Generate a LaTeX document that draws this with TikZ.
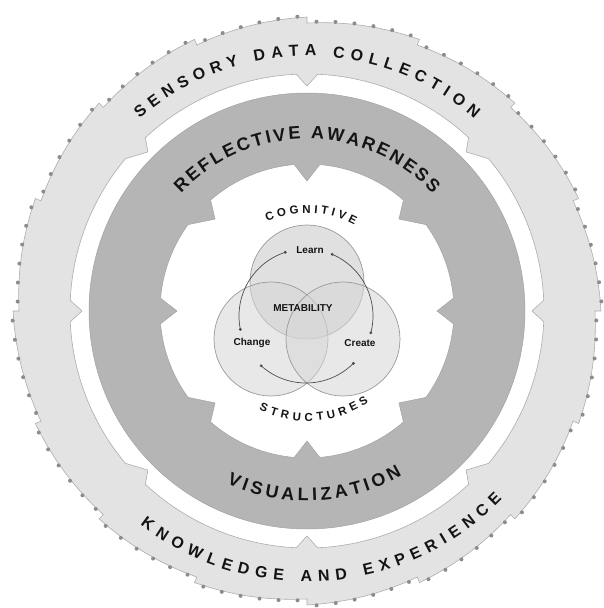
\documentclass[tikz,border=0pt]{standalone}
\usepackage{fontspec}
\setmainfont{Liberation Sans}
\usetikzlibrary{decorations.text}
\definecolor{lightring}{gray}{0.89}
\definecolor{lightedge}{gray}{0.68}
\definecolor{darkring}{gray}{0.71}
\definecolor{darkedge}{gray}{0.64}
\definecolor{dotc}{gray}{0.55}
\definecolor{inktext}{gray}{0.08}
\definecolor{venntop}{gray}{0.78}
\definecolor{vennside}{gray}{0.84}
\definecolor{vennline}{gray}{0.6}
\definecolor{arcline}{gray}{0.3}
\newcommand\fontOuter{\fontsize{16}{16}\selectfont\bfseries}
\newcommand\fontMid{\fontsize{18}{18}\selectfont\bfseries}
\newcommand\fontInner{\fontsize{11.5}{11.5}\selectfont\bfseries}
\tikzset{
  ringtext/.style={decorate, decoration={text along path, text align={fit to path}, text color=inktext}},
  vcirc/.style={circle, minimum size=114pt, inner sep=0pt, draw=vennline, line width=0.7pt, fill opacity=0.55},
  vlabel/.style={font=\fontsize{10}{10}\selectfont\bfseries, text=inktext, inner sep=1pt},
  vdot/.style={circle, fill=arcline, inner sep=0pt, minimum size=3.2pt},
  arcconn/.style={draw=arcline, line width=0.7pt}
}
\begin{document}
\begin{tikzpicture}[x=1pt,y=1pt]
\useasboundingbox (-307,-297) rectangle (296,311);

% outer light ring with sawtooth outer edge and inward teeth
\filldraw[fill=lightring, draw=lightedge, line width=0.6pt, even odd rule]
  (360:288)
  \foreach \k in {0,...,15}{ \foreach \j in {0,...,8}{ -- ({360-22.5*\k-2.8125*\j}:{288+6*\j/8}) } } -- cycle
  (112.5:237)
  \foreach \T/\a/\b in {90/2.6/2.6, 45/2/5, 0/2.6/2.6, -45/5/2, -90/2.6/2.6, -135/2/5, -180/2.6/2.6, -225/5/2}{
    arc[start angle=\T+22.5, end angle=\T+\a, radius=237pt] -- (\T:225) -- ({\T-\b}:237)
    arc[start angle=\T-\b, end angle=\T-22.5, radius=237pt] } -- cycle;

% dots on the outer edge
\foreach \k in {0,...,15}{
  \foreach \j in {0.5,1.5,...,5.5}{
    \fill[dotc] ({360-22.5*\k-3.75*\j}:{289+6*\j/6}) circle (2pt);
  }
}

% dark middle ring
\filldraw[fill=darkring, draw=darkedge, line width=0.5pt, even odd rule]
  (0,0) circle (218pt)
  (112.5:147)
  \foreach \T/\a/\b in {90/5/5, 45/4/9, 0/5/5, -45/9/4, -90/5/5, -135/4/9, -180/5/5, -225/9/4}{
    arc[start angle=\T+22.5, end angle=\T+\a, radius=147pt] -- (\T:130) -- ({\T-\b}:147)
    arc[start angle=\T-\b, end angle=\T-22.5, radius=147pt] } -- cycle;

% ring texts
\path[ringtext, decoration={text={|\fontOuter|SENSORY DATA COLLECTION}}]
  (131:255) arc[start angle=131, end angle=49, radius=255pt];
\path[ringtext, decoration={text={|\fontOuter|KNOWLEDGE AND EXPERIENCE}}]
  (232:271) arc[start angle=232, end angle=316, radius=271pt];
\path[ringtext, decoration={text={|\fontMid|REFLECTIVE AWARENESS}}]
  (137:172) arc[start angle=137, end angle=43, radius=172pt];
\path[ringtext, decoration={text={|\fontMid|VISUALIZATION}}]
  (245:190) arc[start angle=245, end angle=300, radius=190pt];
\path[ringtext, decoration={text={|\fontInner|COGNITIVE}}]
  (114:98) arc[start angle=114, end angle=61, radius=98pt];
\path[ringtext, decoration={text={|\fontInner|STRUCTURES}}]
  (244:110) arc[start angle=244, end angle=304, radius=110pt];

% Venn circles
\node[vcirc, fill=venntop] (vtop) at (0,29) {};
\node[vcirc, fill=vennside] (vleft) at (-36,-28) {};
\node[vcirc, fill=vennside] (vright) at (36,-28) {};

% labels
\node[vlabel] (learn) at (3,61) {Learn};
\node[vlabel] (meta) at (-4,3) {METABILITY};
\node[vlabel] (change) at (-55,-32) {Change};
\node[vlabel] (create) at (53,-32) {Create};

% cycle connectors with dots
\coordinate (vc) at (-1,-5);
\node[vdot] (dLL) at ([shift={(108:67)}]vc) {};
\node[vdot] (dLR) at ([shift={(67:67)}]vc) {};
\node[vdot] (dCT) at ([shift={(-14.5:67)}]vc) {};
\node[vdot] (dCB) at ([shift={(-45:67)}]vc) {};
\node[vdot] (dHB) at ([shift={(228:67)}]vc) {};
\node[vdot] (dHT) at ([shift={(191.5:67)}]vc) {};
\draw[arcconn] (dLR.center) arc[start angle=67, end angle=-14.5, radius=67pt];
\draw[arcconn] (dCB.center) arc[start angle=-45, end angle=-132, radius=67pt];
\draw[arcconn] (dHT.center) arc[start angle=191.5, end angle=108, radius=67pt];
\end{tikzpicture}
\end{document}
